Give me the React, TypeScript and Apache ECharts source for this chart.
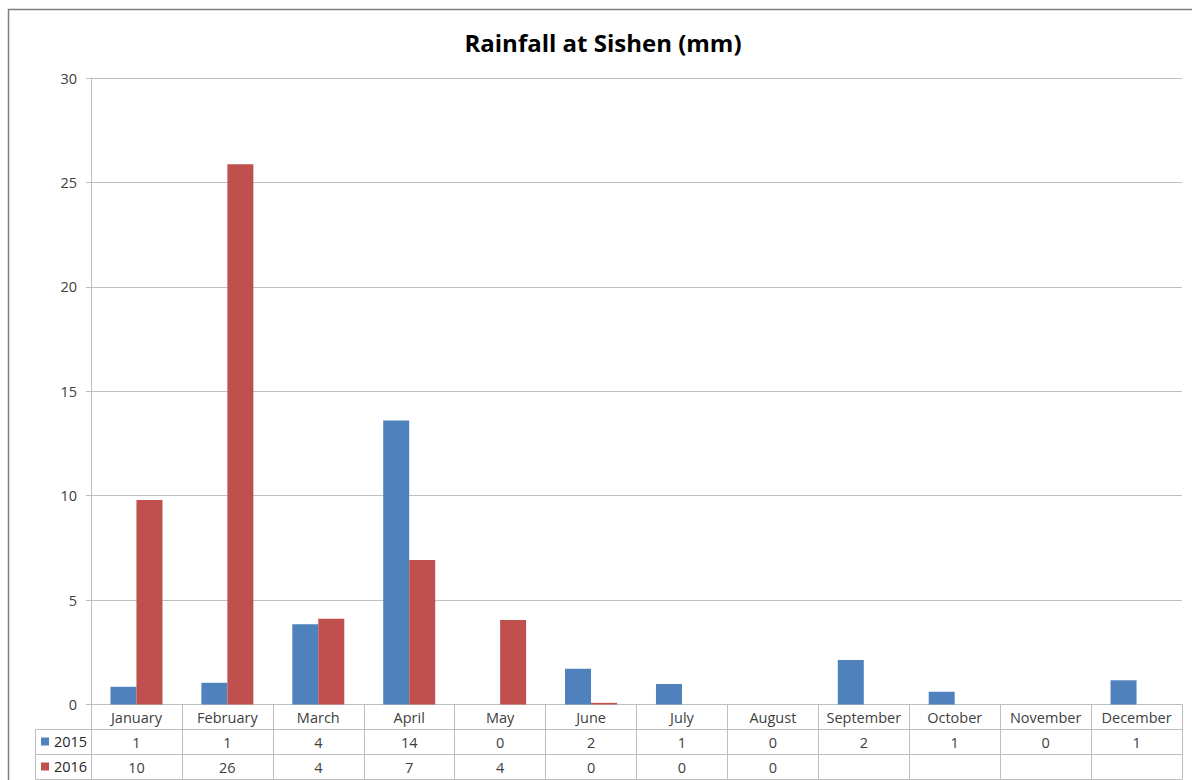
import React, { useEffect, useRef } from "react";
import * as echarts from "echarts";

const months = ["January", "February", "March", "April", "May", "June", "July", "August", "September", "October", "November", "December"];
const seriesNames = ["2015", "2016"];
const rain2015 = [0.85, 1.04, 3.84, 13.6, 0, 1.71, 0.98, 0, 2.13, 0.61, 0, 1.16];
const rain2016 = [9.79, 25.87, 4.11, 6.92, 4.05, 0.08, 0, 0, null, null, null, null];
const colors = ["#4F81BD", "#C0504D"];
const yTicks = { min: 0, max: 30, interval: 5 };
const title = "Rainfall at Sishen (mm)";

const FONT = "'Open Sans', Lato, sans-serif";
const GRID_L = 91;
const GRID_R = 1182;
const GRID_T = 78;
const GRID_B = 704.5;
const ROW_H = 25;
const TABLE_L = 35.5;
const LABEL_SIZE = 14.5;

export default function App() {
  const ref = useRef<HTMLDivElement>(null);
  useEffect(() => {
    if (!ref.current) return;
    const chart = echarts.init(ref.current, undefined, { renderer: "svg" });
    const fmt = (arr: (number | null)[]) => (_v: string, i: number) =>
      arr[i] == null ? "" : String(Math.round(arr[i] as number));
    const gridLine = "#BFBFBF";
    const labelStyle = { interval: 0, fontSize: LABEL_SIZE, color: "#404040", margin: 5, fontFamily: FONT, lineHeight: 15 };
    const rowLines = [1, 2, 3].map((k) => ({
      type: "line",
      shape: { x1: TABLE_L, y1: GRID_B + ROW_H * k, x2: GRID_R, y2: GRID_B + ROW_H * k },
      style: { stroke: gridLine, lineWidth: 1 },
      silent: true,
    }));
    chart.setOption({
      animation: false,
      textStyle: { fontFamily: FONT },
      grid: { left: GRID_L, right: 1192 - GRID_R, top: GRID_T, bottom: 780 - GRID_B, containLabel: false },
      legend: {
        data: seriesNames,
        orient: "vertical",
        left: 41,
        top: 734,
        padding: 0,
        itemWidth: 8,
        itemHeight: 8,
        itemGap: 10,
        icon: "rect",
        textStyle: { fontSize: LABEL_SIZE, color: "#262626", fontFamily: FONT, lineHeight: 15 },
        selectedMode: false,
      },
      xAxis: [
        {
          type: "category",
          data: months,
          position: "bottom",
          boundaryGap: true,
          axisLine: { show: true, lineStyle: { color: gridLine, width: 1 } },
          axisTick: { show: true, interval: 0, length: 75, lineStyle: { color: gridLine } },
          axisLabel: labelStyle,
        },
        {
          type: "category",
          data: months,
          position: "bottom",
          offset: ROW_H,
          axisLine: { show: false },
          axisTick: { show: false },
          axisLabel: { ...labelStyle, formatter: fmt(rain2015) },
        },
        {
          type: "category",
          data: months,
          position: "bottom",
          offset: ROW_H * 2,
          axisLine: { show: false },
          axisTick: { show: false },
          axisLabel: { ...labelStyle, formatter: fmt(rain2016) },
        },
      ],
      yAxis: {
        type: "value",
        min: yTicks.min,
        max: yTicks.max,
        interval: yTicks.interval,
        axisLine: { show: true, lineStyle: { color: gridLine } },
        axisTick: { show: true, length: 5, lineStyle: { color: gridLine } },
        axisLabel: { fontSize: LABEL_SIZE, color: "#404040", margin: 14, fontFamily: FONT },
        splitLine: { show: true, lineStyle: { color: gridLine, width: 1 } },
      },
      series: [
        {
          name: seriesNames[0],
          type: "bar",
          data: rain2015,
          xAxisIndex: 0,
          barWidth: 26,
          barGap: "0%",
          itemStyle: { color: colors[0] },
        },
        {
          name: seriesNames[1],
          type: "bar",
          data: rain2016,
          xAxisIndex: 0,
          barWidth: 26,
          barGap: "0%",
          itemStyle: { color: colors[1] },
        },
      ],
      graphic: [
        {
          type: "rect",
          shape: { x: 8.5, y: 9.5, width: 1200, height: 800 },
          style: { fill: "none", stroke: "#7F7F7F", lineWidth: 1.5 },
          silent: true,
        },
        {
          type: "text",
          x: 603,
          y: 42,
          style: {
            text: title,
            fontSize: 24,
            fontWeight: "bold",
            fontFamily: FONT,
            fill: "#000000",
            textAlign: "center",
            textVerticalAlign: "middle",
          },
          silent: true,
        },
        ...rowLines,
        {
          type: "line",
          shape: { x1: TABLE_L, y1: GRID_B + ROW_H, x2: TABLE_L, y2: GRID_B + ROW_H * 3 },
          style: { stroke: gridLine, lineWidth: 1 },
          silent: true,
        },
      ],
    });
    return () => chart.dispose();
  }, []);
  return <div ref={ref} style={{ position: "fixed", left: 0, top: 0, width: 1192, height: 780, background: "#fff" }} />;
}
